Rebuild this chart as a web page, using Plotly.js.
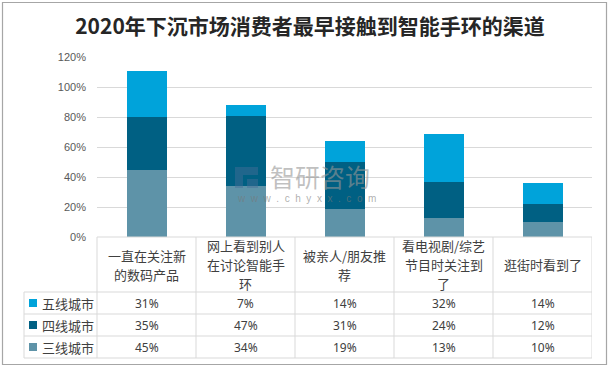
<!DOCTYPE html>
<html><head><meta charset="utf-8">
<script src="https://cdn.plot.ly/plotly-3.0.1.min.js"></script>
<style>html,body{margin:0;padding:0;background:#fff}#chart{width:610px;height:369px}</style>
</head><body><div id="chart"></div>
<script>
// ---- data ----
const categories = ["一直在关注新<br>的数码产品", "网上看到别人<br>在讨论智能手<br>环", "被亲人/朋友推<br>荐", "看电视剧/综艺<br>节目时关注到<br>了", "逛街时看到了"];
const seriesNames = ["五线城市", "四线城市", "三线城市"];
const tier5 = [31, 7, 14, 32, 14];
const tier4 = [35, 47, 31, 24, 12];
const tier3 = [45, 34, 19, 13, 10];
const yTicks = [0, 20, 40, 60, 80, 100, 120];
const titleText = "2020年下沉市场消费者最早接触到智能手环的渠道";

// ---- styling ----
const colors = {"五线城市": "#00a3da", "四线城市": "#006083", "三线城市": "#5e93a8"};
const W = 610, H = 369, L = 97, R = 18, T = 57, B = 132;
const PW = W - L - R, PH = H - T - B;
const X = px => (px - L) / PW;
const Y = py => (H - B - py) / PH;
const idx = categories.map((c, i) => i);
const seriesVals = {"五线城市": tier5, "四线城市": tier4, "三线城市": tier3};

const traces = ["三线城市", "四线城市", "五线城市"].map(name => ({
  type: "bar", name: name, x: idx, y: seriesVals[name],
  marker: {color: colors[name]}, hoverinfo: "skip"
}));

const gridC = "#d9d9d9";
const shapes = [];
const line = (x0, y0, x1, y1) => shapes.push({type: "line", xref: "paper", yref: "paper",
  x0: x0, y0: y0, x1: x1, y1: y1, line: {color: gridC, width: 1}, layer: "above"});

// table geometry (pixel rows)
const rowTop = 237, headBottom = 292, rowH = 22;
const rowsY = [headBottom, headBottom + rowH, headBottom + 2 * rowH, headBottom + 3 * rowH];
line(X(L), Y(rowTop), 1, Y(rowTop));
rowsY.forEach(py => line(X(24), Y(py), 1, Y(py)));
line(X(24), Y(headBottom), X(24), Y(rowsY[3]));
line(X(L), Y(rowTop), X(L), Y(rowsY[3]));
for (let i = 1; i <= categories.length; i++) {
  shapes.push({type: "line", xref: "x", yref: "paper", x0: i - 0.5, x1: i - 0.5, y0: Y(rowTop), y1: Y(rowsY[3]),
    line: {color: gridC, width: 1}, layer: "above"});
}
// outer frame
shapes.push({type: "rect", xref: "paper", yref: "paper", x0: X(2.5), x1: X(606.5), y0: Y(2.5), y1: Y(364.5),
  line: {color: "#a6a6a6", width: 1.2}, fillcolor: "rgba(0,0,0,0)"});

const annotations = [];
// header categories, one annotation per wrapped line
const headMid = 264.5, lineGap = 19;
categories.forEach((c, i) => {
  const parts = c.split("<br>");
  parts.forEach((p, k) => {
    const py = headMid + (k - (parts.length - 1) / 2) * lineGap;
    annotations.push({xref: "x", yref: "paper", x: i, y: Y(py), text: p, showarrow: false, xanchor: "center", yanchor: "middle",
      font: {family: "Noto Sans CJK SC, sans-serif", size: 13, color: "#404040"}});
  });
});
// rows
seriesNames.forEach((name, r) => {
  const cy = Y(rowsY[r] + rowH / 2);
  shapes.push({type: "rect", xref: "paper", yref: "paper", x0: X(29), x1: X(37), y0: Y(rowsY[r] + rowH / 2 - 4), y1: Y(rowsY[r] + rowH / 2 + 4),
    fillcolor: colors[name], line: {width: 0}});
  annotations.push({xref: "paper", yref: "paper", x: X(40), y: cy, text: name, showarrow: false, xanchor: "left", yanchor: "middle",
    font: {family: "Noto Sans CJK SC, sans-serif", size: 13, color: "#404040"}});
  seriesVals[name].forEach((v, i) => annotations.push({xref: "x", yref: "paper", x: i, y: cy, text: v + "%", showarrow: false,
    xanchor: "center", yanchor: "middle", font: {family: "Noto Sans, sans-serif", size: 12, color: "#404040"}}));
});
// watermark
annotations.push({xref: "paper", yref: "paper", x: X(320), y: Y(176), text: "智研咨询", showarrow: false, xanchor: "center", yanchor: "middle",
  font: {family: "Noto Sans CJK SC, sans-serif", size: 25, color: "rgba(150,150,150,0.6)"}});
annotations.push({xref: "paper", yref: "paper", x: X(306), y: Y(198), text: "w  w  w  .  c  h  y  x  x  .  c  o  m", showarrow: false, xanchor: "center", yanchor: "middle",
  font: {family: "Liberation Sans, sans-serif", size: 10, color: "rgba(120,120,120,0.6)"}});
shapes.push({type: "path", xref: "paper", yref: "paper",
  path: `M ${X(235)},${Y(167)} L ${X(258)},${Y(167)} L ${X(258)},${Y(175)} L ${X(243)},${Y(175)} L ${X(243)},${Y(188)} L ${X(235)},${Y(188)} Z`,
  fillcolor: "rgba(70,110,150,0.45)", line: {width: 0}, layer: "above"});
shapes.push({type: "rect", xref: "paper", yref: "paper", x0: X(247), x1: X(258), y0: Y(179), y1: Y(188),
  fillcolor: "rgba(70,110,150,0.45)", line: {width: 0}, layer: "above"});

const layout = {
  width: W, height: H, margin: {l: L, r: R, t: T, b: B, pad: 0},
  paper_bgcolor: "#fff", plot_bgcolor: "#fff",
  barmode: "stack", bargap: 0.596, showlegend: false,
  title: {text: "<b>" + titleText + "</b>", xref: "container", yref: "container", x: 310 / W, y: 1 - 27 / H,
    xanchor: "center", yanchor: "middle", font: {family: "Noto Sans CJK SC, sans-serif", size: 21, color: "#262626"}},
  xaxis: {range: [-0.5, categories.length - 0.5], showticklabels: false, showgrid: false, zeroline: false, showline: false, ticks: "", fixedrange: true},
  yaxis: {range: [0, 120], tickvals: yTicks, ticktext: yTicks.map(v => v + "%"), showgrid: true, gridcolor: gridC, gridwidth: 1,
    zeroline: false, showline: false, ticks: "", ticklabelstandoff: 10,
    tickfont: {family: "Liberation Sans, sans-serif", size: 11, color: "#595959"}},
  shapes: shapes, annotations: annotations
};
Plotly.newPlot("chart", traces, layout, {staticPlot: true, displayModeBar: false});
</script></body></html>
